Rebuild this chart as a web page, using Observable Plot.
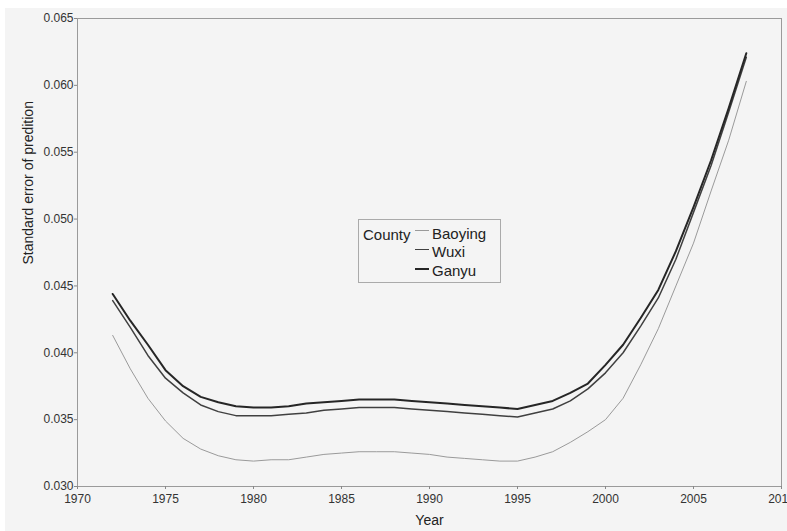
<!DOCTYPE html>
<html>
<head>
<meta charset="utf-8">
<script src="https://cdn.jsdelivr.net/npm/d3@7"></script>
<script src="https://cdn.jsdelivr.net/npm/@observablehq/plot@0.6"></script>
<style>
  html, body { margin: 0; padding: 0; background: #ffffff; }
  #wrap { position: relative; width: 787px; height: 531px; overflow: hidden; }
  #bg { position: absolute; left: 5px; top: 8px; right: 0; bottom: 0; background: #f4f4f4; }
  #chart { position: absolute; left: 0; top: 0; }
  #legend { position: absolute; left: 358px; top: 219px; width: 141px; height: 62px;
            border: 1px solid #aaaaaa; font-family: "Liberation Sans", Arial, sans-serif;
            font-size: 15px; color: #222; }
  #legend .title { position: absolute; left: 4px; top: 6px; }
  #legend .item { position: absolute; left: 73px; }
  #legend .sw { position: absolute; left: 56px; width: 14px; }
</style>
</head>
<body>
<div id="wrap">
  <div id="bg"></div>
  <div id="chart"></div>
  <div id="legend"></div>
</div>
<script>
const years = d3.range(1972, 2009);
const baoying = [0.0413,0.0388,0.0366,0.0349,0.0336,0.0328,0.0323,0.0320,0.0319,0.0320,
  0.0320,0.0322,0.0324,0.0325,0.0326,0.0326,0.0326,0.0325,0.0324,0.0322,
  0.0321,0.0320,0.0319,0.0319,0.0322,0.0326,0.0333,0.0341,0.0350,0.0366,
  0.0391,0.0418,0.0450,0.0482,0.0521,0.0559,0.0603];
const wuxi = [0.0439,0.0419,0.0398,0.0381,0.0370,0.0361,0.0356,0.0353,0.0353,0.0353,
  0.0354,0.0355,0.0357,0.0358,0.0359,0.0359,0.0359,0.0358,0.0357,0.0356,
  0.0355,0.0354,0.0353,0.0352,0.0355,0.0358,0.0364,0.0373,0.0385,0.0400,
  0.0420,0.0441,0.0470,0.0505,0.0540,0.0580,0.0621];
const ganyu = [0.0444,0.0424,0.0406,0.0387,0.0375,0.0367,0.0363,0.0360,0.0359,0.0359,
  0.0360,0.0362,0.0363,0.0364,0.0365,0.0365,0.0365,0.0364,0.0363,0.0362,
  0.0361,0.0360,0.0359,0.0358,0.0361,0.0364,0.0370,0.0377,0.0391,0.0406,
  0.0426,0.0447,0.0476,0.0509,0.0544,0.0583,0.0624];
const counties = ["Baoying", "Wuxi", "Ganyu"];
const xTicks = [1970, 1975, 1980, 1985, 1990, 1995, 2000, 2005, 2010];
const yTicks = [0.030, 0.035, 0.040, 0.045, 0.050, 0.055, 0.060, 0.065];
const xTitle = "Year";
const yTitle = "Standard error of predition";
const legendTitle = "County";

const styles = {
  Baoying: {stroke: "#9a9a9a", width: 1},
  Wuxi: {stroke: "#404040", width: 1.5},
  Ganyu: {stroke: "#262626", width: 2}
};
const seriesValues = {Baoying: baoying, Wuxi: wuxi, Ganyu: ganyu};
const rows = [];
for (const c of counties) years.forEach((yr, i) => rows.push({county: c, year: yr, value: seriesValues[c][i]}));

const lineMarks = counties.map(c => Plot.line(rows.filter(r => r.county === c), {
  x: "year", y: "value", stroke: styles[c].stroke, strokeWidth: styles[c].width
}));

const chart = Plot.plot({
  width: 787,
  height: 531,
  marginLeft: 77,
  marginRight: 6,
  marginTop: 18,
  marginBottom: 45,
  style: {background: "transparent", fontFamily: "'Liberation Sans', Arial, sans-serif", fontSize: "12px", color: "#333", overflow: "visible"},
  x: {domain: [1970, 2010]},
  y: {domain: [0.030, 0.065]},
  marks: [
    Plot.frame({stroke: "#9a9a9a"}),
    Plot.axisX({ticks: xTicks, tickFormat: d => String(d), tickSize: 3, tickPadding: 5, label: null, stroke: "#888"}),
    Plot.axisY({ticks: yTicks, tickFormat: d3.format(".3f"), tickSize: 3, tickPadding: 1, label: null, stroke: "#888"}),
    Plot.text([xTitle], {frameAnchor: "bottom", dy: 38, text: d => d, fontSize: 14, fill: "#222"}),
    Plot.text([yTitle], {frameAnchor: "left", dx: -49, dy: 12, rotate: -90, text: d => d, fontSize: 14, fill: "#222"}),
    ...lineMarks
  ]
});
document.getElementById("chart").appendChild(chart);

// legend
const lg = document.getElementById("legend");
const t = document.createElement("div");
t.className = "title"; t.textContent = legendTitle; lg.appendChild(t);
const itemTops = [5, 23, 42];
const swTops = [10, 29, 48];
counties.forEach((c, i) => {
  const sw = document.createElement("div");
  sw.className = "sw";
  sw.style.top = swTops[i] + "px";
  sw.style.borderTop = styles[c].width + "px solid " + styles[c].stroke;
  lg.appendChild(sw);
  const it = document.createElement("div");
  it.className = "item"; it.style.top = itemTops[i] + "px"; it.textContent = c;
  lg.appendChild(it);
});
</script>
</body>
</html>
